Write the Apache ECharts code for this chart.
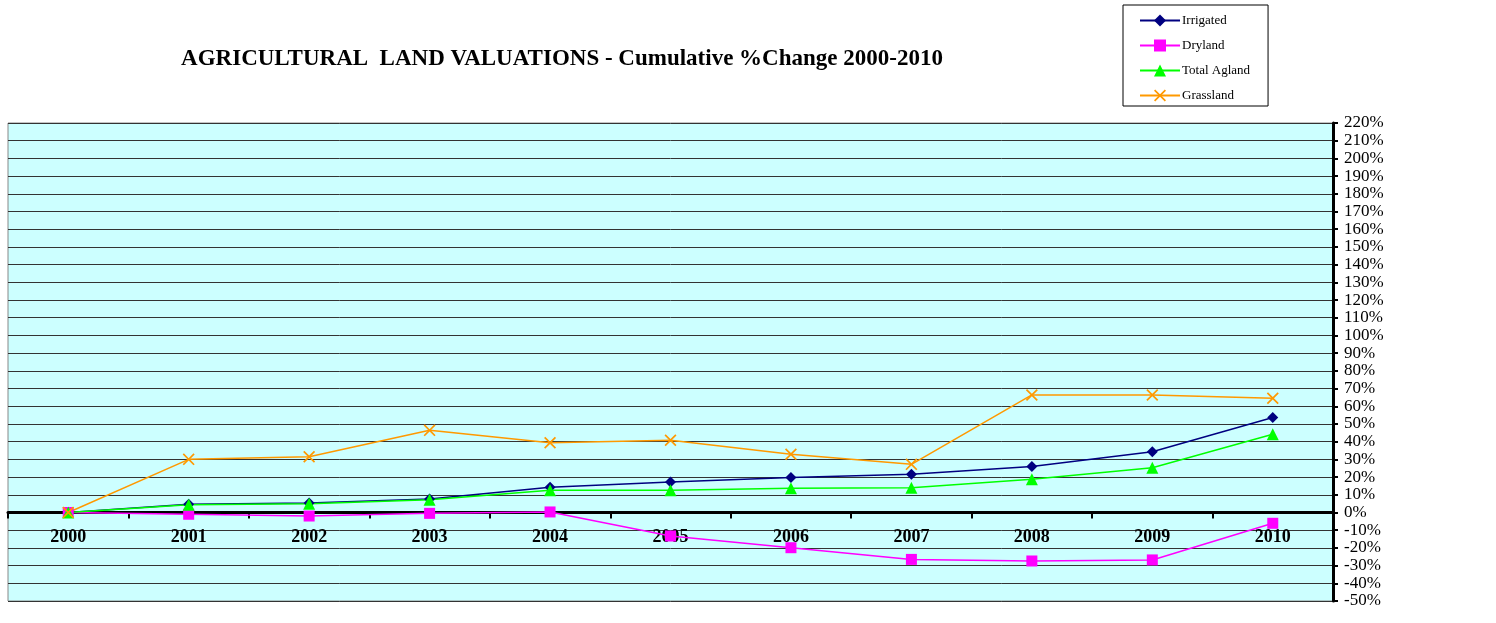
<!DOCTYPE html>
<html>
<head>
<meta charset="utf-8">
<script src="https://cdn.jsdelivr.net/npm/echarts@6/dist/echarts.min.js"></script>
<style>
  html, body { margin: 0; padding: 0; background: #fff; }
  #main { width: 1496px; height: 623px; }
</style>
</head>
<body>
<div id="main"></div>
<script>
// values, cumulative % change
const years = ['2000', '2001', '2002', '2003', '2004', '2005', '2006', '2007', '2008', '2009', '2010'];
const irrigated = [0, 4.6, 5.4, 7.6, 14.2, 17.2, 19.8, 21.6, 26.0, 34.3, 53.6];
const dryland = [0, -1.0, -2.0, -0.5, 0.3, -13.3, -19.9, -26.5, -27.4, -26.8, -6.1];
const totalAgland = [0, 4.3, 5.0, 7.2, 12.5, 12.5, 13.7, 14.0, 18.8, 25.3, 44.2];
const grassland = [0, 30.0, 31.5, 46.4, 39.4, 40.8, 32.9, 27.2, 66.4, 66.4, 64.5];

const crossPath = 'path://M0,1L1,0L5,4L9,0L10,1L6,5L10,9L9,10L5,6L1,10L0,9L4,5Z';

let chart = echarts.init(document.getElementById('main'));

function lineSeries(name, data, color, symbol, size) {
    return {
        name: name,
        type: 'line',
        data: data,
        symbol: symbol,
        symbolSize: size,
        lineStyle: { color: color, width: 1.5 },
        itemStyle: { color: color },
        animation: false
    };
}

// grid: top 123, bottom 601 -> zero line sits 50/270 of the height above the bottom
const gridTop = 123, gridBottom = 601;
const zeroOffset = (gridBottom - gridTop) * 50 / 270;

let option = {
    textStyle: { fontFamily: 'Liberation Serif' },
    title: {
        text: 'AGRICULTURAL  LAND VALUATIONS - Cumulative %Change 2000-2010',
        left: 557,
        top: 43,
        textAlign: 'center',
        textStyle: {
            fontFamily: 'Liberation Serif',
            fontSize: 23,
            fontWeight: 'bold',
            color: '#000'
        }
    },
    legend: {
        orient: 'vertical',
        left: 1123,
        top: 5,
        padding: [8, 18, 3, 16],
        itemGap: 10,
        itemWidth: 40,
        itemHeight: 15,
        borderColor: '#000',
        borderWidth: 1,
        textStyle: { fontFamily: 'Liberation Serif', fontSize: 13, color: '#000', lineHeight: 15, padding: [0, 0, 0, -3] },
        data: ['Irrigated', 'Dryland', 'Total Agland', 'Grassland']
    },
    grid: {
        left: 8,
        right: 1496 - 1333,
        top: gridTop,
        bottom: 623 - gridBottom,
        outerBoundsMode: 'none',
        show: true,
        backgroundColor: '#CCFFFF',
        borderColor: '#888',
        borderWidth: 1
    },
    xAxis: {
        type: 'category',
        data: years,
        boundaryGap: true,
        offset: -zeroOffset,
        axisLine: { onZero: false, lineStyle: { color: '#000', width: 3 } },
        axisTick: { show: true, length: 6, lineStyle: { color: '#000', width: 2 } },
        axisLabel: {
            margin: 16,
            fontFamily: 'Liberation Serif',
            fontSize: 18,
            fontWeight: 'bold',
            color: '#000'
        },
        splitLine: { show: false }
    },
    yAxis: {
        type: 'value',
        position: 'right',
        min: -50,
        max: 220,
        interval: 10,
        axisLine: { show: true, lineStyle: { color: '#000', width: 3 } },
        axisTick: { show: true, length: 5, lineStyle: { color: '#000', width: 2 } },
        axisLabel: {
            margin: 11,
            fontFamily: 'Liberation Serif',
            fontSize: 17,
            color: '#000',
            formatter: '{value}%'
        },
        splitLine: { show: true, lineStyle: { color: '#333', width: 1 } }
    },
    series: [
        lineSeries('Irrigated', irrigated, '#000080', 'diamond', 11),
        lineSeries('Dryland', dryland, '#FF00FF', 'rect', 11),
        lineSeries('Total Agland', totalAgland, '#00FF00', 'triangle', 12),
        lineSeries('Grassland', grassland, '#FF9900', crossPath, 12)
    ]
};

chart.setOption(option);
window.addEventListener('resize', function () {
    chart.resize();
});
</script>
</body>
</html>
